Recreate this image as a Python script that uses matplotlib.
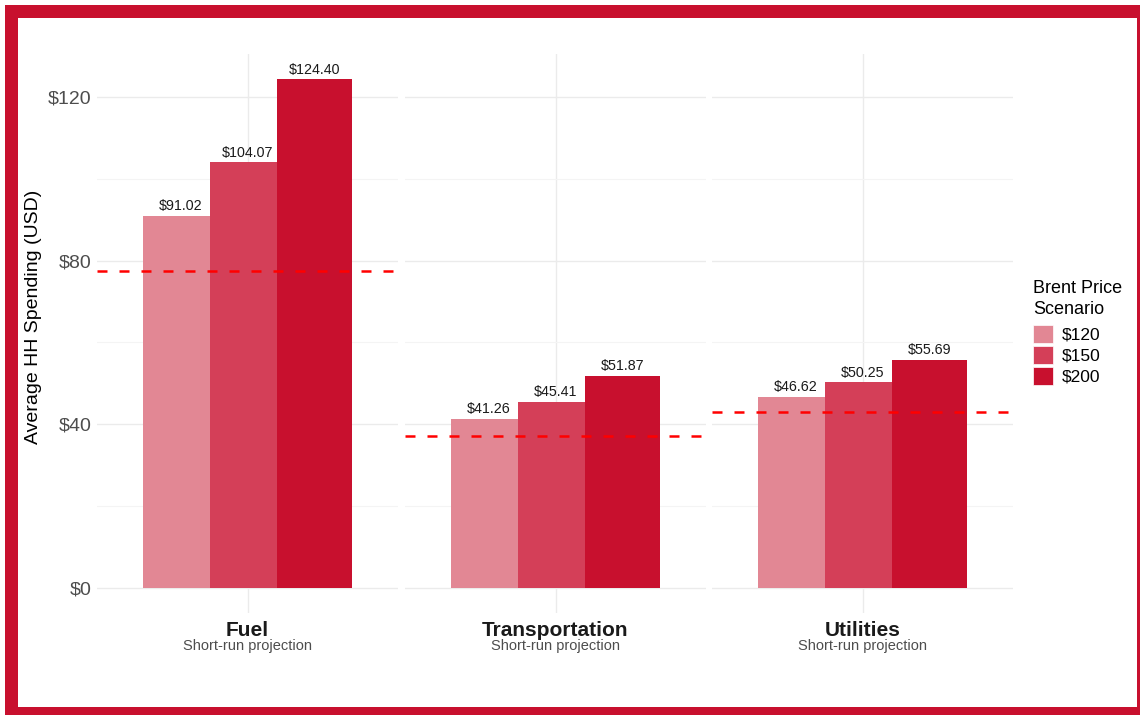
import matplotlib
matplotlib.use("Agg")
import matplotlib.pyplot as plt
from matplotlib.patches import Rectangle, Patch
from matplotlib.ticker import FuncFormatter

plt.rcParams['font.family'] = ['Liberation Sans', 'DejaVu Sans']

# ---- data ----
categories = ["Fuel", "Transportation", "Utilities"]
subtitle = "Short-run projection"
scenarios = ["$120", "$150", "$200"]
values = {
    "$120": [91.02, 41.26, 46.62],
    "$150": [104.07, 45.41, 50.25],
    "$200": [124.40, 51.87, 55.69],
}
baseline = [77.6, 37.0, 42.9]
yticks = [0, 40, 80, 120]
yminor = [20, 60, 100]

# ---- styles ----
colors = {"$120": "#E28794", "$150": "#D43F58", "$200": "#C8102E"}
frame_red = "#C8102E"
W, H = 1140, 715
fig = plt.figure(figsize=(W / 100, H / 100), dpi=100)

# red frame
fig.patches.append(Rectangle((5 / W, 0), 1 - 5 / W, 1 - 5 / H, transform=fig.transFigure,
                             facecolor=frame_red, edgecolor="none", zorder=-10))
fig.patches.append(Rectangle((18 / W, 1 - 707 / H), (1136.5 - 18) / W, (707 - 17.5) / H,
                             transform=fig.transFigure, facecolor="white", edgecolor="none", zorder=-9))

panel_left = [97, 405, 712]
panel_w = 301
top_px, bot_px = 54, 613
ymax = max(values["$200"])
ylim = (-0.05 * ymax, ymax * 1.05)

offsets = [-0.2667, 0.0, 0.2667]
bar_w = 0.30
axes = []
for i, cat in enumerate(categories):
    ax = fig.add_axes([panel_left[i] / W, 1 - bot_px / H, panel_w / W, (bot_px - top_px) / H])
    axes.append(ax)
    ax.set_xlim(-0.6, 0.6)
    ax.set_ylim(*ylim)
    for s in ax.spines.values():
        s.set_visible(False)
    ax.set_yticks(yticks)
    ax.set_yticks(yminor, minor=True)
    ax.set_xticks([0])
    ax.set_xticklabels([""])
    ax.grid(True, which="major", color="#EBEBEB", linewidth=1.0, zorder=0)
    ax.grid(True, which="minor", axis="y", color="#F4F4F4", linewidth=0.8, zorder=0)
    ax.set_axisbelow(True)
    ax.tick_params(which="both", length=0)
    if i == 0:
        ax.yaxis.set_major_formatter(FuncFormatter(lambda v, p: f"${v:.0f}"))
        ax.tick_params(axis="y", labelsize=14, labelcolor="#4D4D4D", pad=4)
        ax.set_ylabel("Average HH Spending (USD)", fontsize=14, color="black", va="center")
        ax.yaxis.set_label_coords((33.5 - panel_left[0]) / panel_w, (bot_px - 317) / (bot_px - top_px))
    else:
        ax.set_yticklabels([])
    for j, sc in enumerate(scenarios):
        v = values[sc][i]
        ax.bar(offsets[j], v, width=bar_w, color=colors[sc], edgecolor="none", zorder=2 + j)
        ax.annotate(f"${v:.2f}", xy=(offsets[j], v), xytext=(0, 2), textcoords="offset points",
                    ha="center", va="bottom", fontsize=10.3, color="#1A1A1A", zorder=10)
    ax.axhline(baseline[i], color="#FF0000", linewidth=1.8, dashes=(4, 4.8), zorder=8)
    ax.annotate(cat, xy=(0, 0), xycoords=("data", "axes fraction"), xytext=(0, -12.5),
                textcoords="offset points", ha="center", va="center", fontsize=15,
                fontweight="bold", color="#1A1A1A", annotation_clip=False)
    ax.annotate(subtitle, xy=(0, 0), xycoords=("data", "axes fraction"), xytext=(0, -24),
                textcoords="offset points", ha="center", va="center", fontsize=10.5,
                color="#4D4D4D", annotation_clip=False)

# legend
fig.text(1033 / W, 1 - 299 / H, "Brent Price\nScenario", ha="left", va="center",
         fontsize=13, linespacing=1.32, color="black")
handles = [Patch(facecolor=colors[s], edgecolor="white", linewidth=0.5, label=s) for s in scenarios]
leg = fig.legend(handles=handles, loc="upper left",
                 bbox_to_anchor=(1033 / W, 1 - 325 / H), frameon=False, fontsize=12.5,
                 handlelength=1.15, handleheight=1.2, labelspacing=0.18,
                 handletextpad=0.5, borderpad=0, borderaxespad=0)

fig.savefig("out.png", dpi=100)
